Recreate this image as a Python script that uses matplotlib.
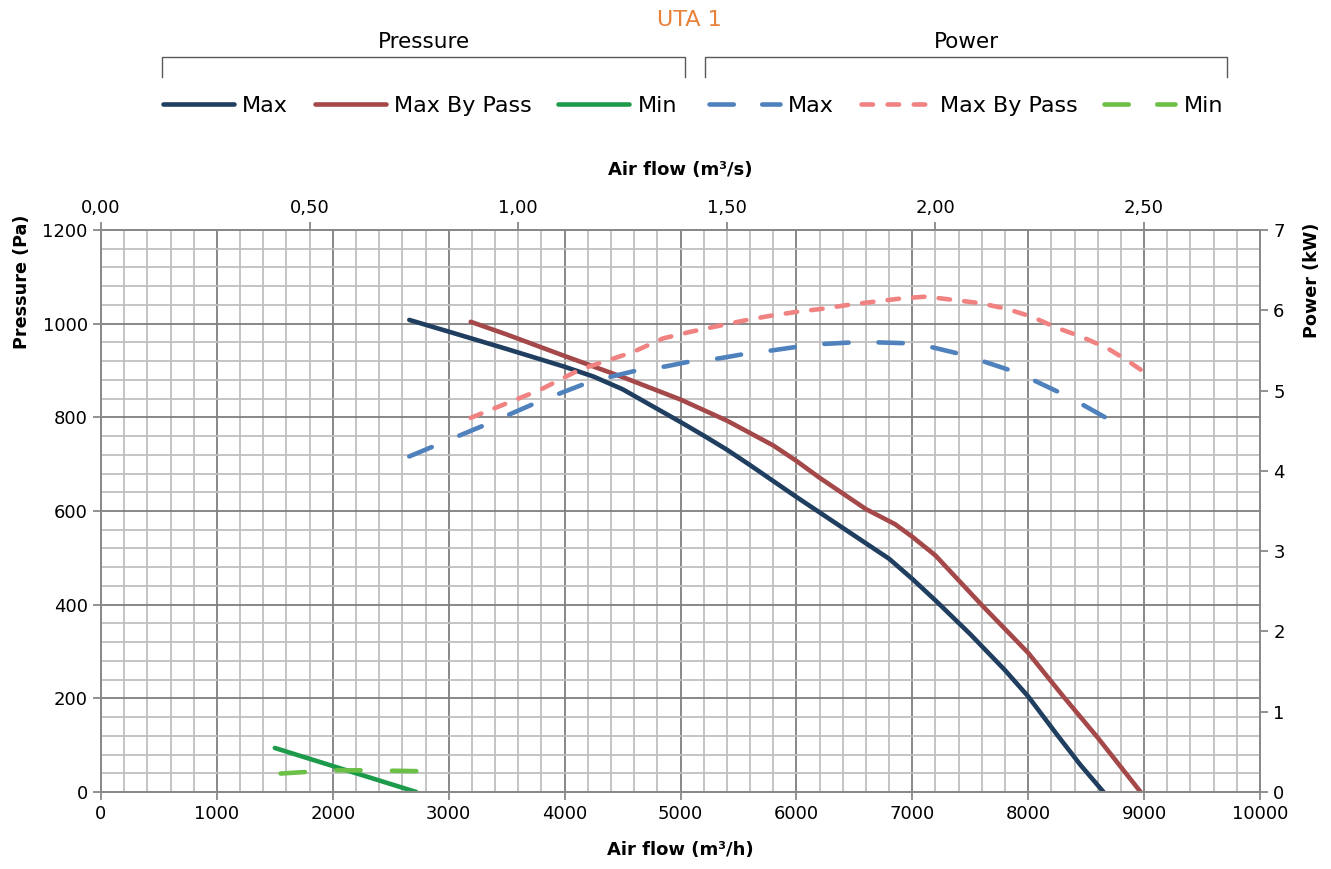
import matplotlib
matplotlib.use("Agg")
import numpy as np
import matplotlib.pyplot as plt
from matplotlib.lines import Line2D
from matplotlib.ticker import MultipleLocator, FixedLocator, FuncFormatter

# Fan curves of UTA 1: pressure (left axis) and absorbed power (right axis)
# against air flow in m3/h (bottom) and m3/s (top).

# Pressure curves (m3/h, Pa)
max_flow = [2660, 3000, 3500, 4000, 4250, 4500, 4800, 5000, 5200, 5400, 5600,
            5800, 6000, 6400, 6800, 7000, 7200, 7500, 7800, 8000, 8250, 8450, 8650]
max_pres = [1008, 983, 946, 908, 887, 860, 818, 790, 761, 731, 698,
            664, 630, 564, 498, 455, 409, 337, 260, 204, 122, 58, 0]

bypass_flow = [3190, 3500, 4000, 4500, 5000, 5400, 5800, 6000, 6200, 6600,
               6850, 7000, 7200, 7400, 7600, 8000, 8300, 8600, 8970]
bypass_pres = [1004, 977, 931, 886, 838, 793, 740, 707, 671, 604,
               572, 545, 505, 452, 399, 297, 205, 116, 0]

min_flow = [1500, 2720]
min_pres = [94, 0]

# Power curves (m3/h, kW)
max_pw_flow = [2660, 3360, 3790, 4220, 4650, 4870, 5110, 5330, 5570, 5790,
               6030, 6230, 6480, 6710, 6940, 7170, 7400, 7600, 7830, 8030,
               8250, 8450, 8660]
max_pw = [4.18, 4.60, 4.87, 5.11, 5.26, 5.30, 5.37, 5.40, 5.46, 5.50,
          5.55, 5.58, 5.60, 5.60, 5.59, 5.54, 5.46, 5.37, 5.26, 5.14,
          4.99, 4.84, 4.67]

bypass_pw_flow = [3190, 3790, 4130, 4590, 4850, 5080, 5310, 5540, 5770, 6000,
                  6230, 6460, 6690, 6920, 7120, 7350, 7580, 7810, 8030, 8250,
                  8460, 8680, 8850, 8970]
bypass_pw = [4.66, 5.01, 5.26, 5.48, 5.65, 5.73, 5.80, 5.87, 5.93, 5.98,
             6.02, 6.07, 6.11, 6.15, 6.17, 6.13, 6.09, 6.02, 5.92, 5.78,
             5.67, 5.53, 5.38, 5.26]

min_pw_flow = [1550, 2000, 2300, 2720]
min_pw = [0.23, 0.27, 0.27, 0.26]

labels = ["Max", "Max By Pass", "Min"]
top_ticks = [0.0, 0.5, 1.0, 1.5, 2.0, 2.5]

plt.rcParams['font.family'] = ['DejaVu Sans']
fs = 13
grey = '#898989'
W, H = 1331, 869

fig = plt.figure(figsize=(W / 100, H / 100), dpi=100)
ax = fig.add_axes([101 / W, 1 - 792 / H, 1159 / W, 562 / H])
ax2 = ax.twinx()

ax.set_xlim(0, 10000)
ax.set_ylim(0, 1200)
ax2.set_ylim(0, 7)

lw = 3.3
l1, = ax.plot(max_flow, max_pres, color='#1F3E60', lw=lw, solid_capstyle='round')
l2, = ax.plot(bypass_flow, bypass_pres, color='#A5484A', lw=lw, solid_capstyle='round')
l3, = ax.plot(min_flow, min_pres, color='#1E9B4A', lw=lw, solid_capstyle='round')


def dashed(a, x, y, color, on, off):
    # stretch the gap a little so the curve starts and ends on a full dash
    pts = a.transData.transform(np.column_stack([x, y])) * 72 / fig.dpi
    length = np.hypot(*np.diff(pts, axis=0).T).sum() / lw
    n = max(1, round((length - on) / (on + off)))
    gap = (length - on) / n - on
    a.plot(x, y, color=color, lw=lw, linestyle=(0, (on, gap)),
           dash_capstyle='round')
    leg, = a.plot([], [], color=color, lw=lw, linestyle=(0, (on, off)),
                  dash_capstyle='round')
    return leg


p1 = dashed(ax2, max_pw_flow, max_pw, '#4F81BD', 5.3, 6.2)
p2 = dashed(ax2, bypass_pw_flow, bypass_pw, '#F08282', 2.5, 3.2)
p3 = dashed(ax2, min_pw_flow, min_pw, '#6CBF47', 5.3, 6.2)

ax.xaxis.set_major_locator(MultipleLocator(1000))
ax.xaxis.set_minor_locator(MultipleLocator(200))
ax.yaxis.set_major_locator(MultipleLocator(200))
ax.yaxis.set_minor_locator(MultipleLocator(40))
ax2.yaxis.set_major_locator(MultipleLocator(1))

ax.grid(which='minor', color='#BFBFBF', lw=1.3)
ax.grid(which='major', color='#7F7F7F', lw=1.3)
ax.set_axisbelow(True)

for a in (ax, ax2):
    for s in a.spines.values():
        s.set_color(grey)
        s.set_linewidth(1.3)
    a.tick_params(which='major', direction='out', length=5.5, width=1.3,
                  color=grey, labelsize=fs, pad=4)
    a.tick_params(which='minor', length=0)

# top axis in m3/s
sec = ax.secondary_xaxis('top', functions=(lambda q: q / 3600, lambda q: q * 3600))
sec.xaxis.set_major_locator(FixedLocator(top_ticks))
sec.xaxis.set_major_formatter(FuncFormatter(lambda v, p: f"{v:.2f}".replace('.', ',')))
sec.tick_params(direction='out', length=5.5, width=1.3, color=grey, labelsize=fs, pad=4)
sec.spines['top'].set_color(grey)
sec.spines['top'].set_linewidth(1.3)

ax.set_xlabel("Air flow (m³/h)", fontsize=13, fontweight='bold')
ax.xaxis.set_label_coords(0.5, -0.088)
fig.text(680 / W, 1 - 170 / H, "Air flow (m³/s)", fontsize=13, fontweight='bold',
         ha='center', va='center')
ax.set_ylabel("Pressure (Pa)", fontsize=12.7, fontweight='bold')
ax.yaxis.set_label_coords(-0.06, 0.907)
ax2.set_ylabel("Power (kW)", fontsize=12.7, fontweight='bold')
ax2.yaxis.set_label_coords(1.037, 0.91)

# title and grouped legends
fig.text(689 / W, 1 - 20 / H, "UTA 1", color='#E8823A', fontsize=16,
         ha='center', va='center')

leg_kw = dict(loc='center', ncol=3, frameon=False, fontsize=16, handlelength=3.2,
              handletextpad=0.36, columnspacing=1.2, borderaxespad=0)
fig.legend([l1, l2, l3], labels, bbox_to_anchor=(420 / W, 1 - 106 / H), **leg_kw)
fig.legend([p1, p2, p3], labels, bbox_to_anchor=(966 / W, 1 - 106 / H), **leg_kw)

for x0, x1, name in [(162, 685, "Pressure"), (705, 1227, "Power")]:
    xs = [x0 / W, x0 / W, x1 / W, x1 / W]
    ys = [1 - 77 / H, 1 - 57 / H, 1 - 57 / H, 1 - 77 / H]
    fig.add_artist(Line2D(xs, ys, color='#595959', lw=1.0, transform=fig.transFigure))
    fig.text((x0 + x1) / 2 / W, 1 - 42 / H, name, fontsize=15.5,
             ha='center', va='center')

fig.savefig("out.png", dpi=100)
